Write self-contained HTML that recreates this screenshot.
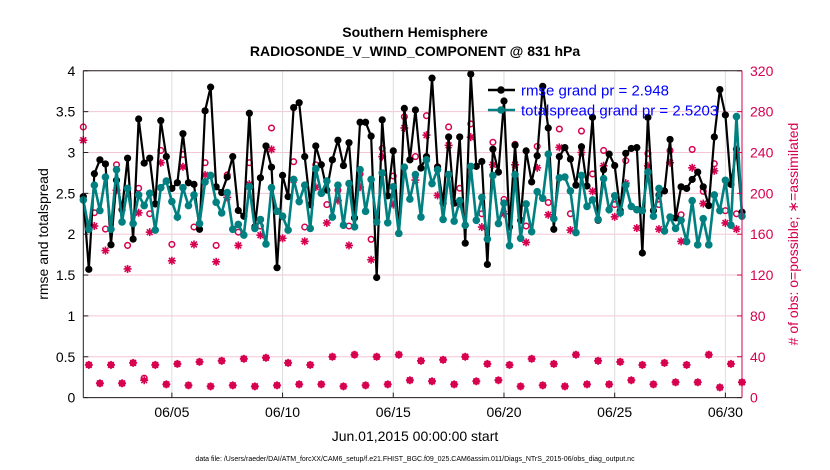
<!DOCTYPE html>
<html><head><meta charset="utf-8"><style>
body{margin:0;background:#fff;}
svg{display:block;font-family:"Liberation Sans",sans-serif;}
</style></head><body>
<svg id="chart" width="830" height="470" viewBox="0 0 830 470">
<rect width="830" height="470" fill="#fff"/>
<text x="415" y="37" text-anchor="middle" font-size="14" font-weight="bold">Southern Hemisphere</text>
<text x="415" y="56" text-anchor="middle" font-size="14" font-weight="bold">RADIOSONDE_V_WIND_COMPONENT @ 831 hPa</text>
<g id="grid"></g>
<g id="marks"></g>
<g id="axes"></g>
<text x="48" y="234" text-anchor="middle" font-size="14" transform="rotate(-90 48 234)">rmse and totalspread</text>
<text x="798" y="234" text-anchor="middle" font-size="14" fill="#d7004f" transform="rotate(-90 798 234)"># of obs: o=possible; ∗=assimilated</text>
<text x="415" y="441" text-anchor="middle" font-size="14">Jun.01,2015 00:00:00 start</text>
<text x="415" y="461" text-anchor="middle" font-size="7">data file: /Users/raeder/DAI/ATM_forcXX/CAM6_setup/f.e21.FHIST_BGC.f09_025.CAM6assim.011/Diags_NTrS_2015-06/obs_diag_output.nc</text>
<g id="legend"></g>
</svg>
<script>
const rmse=[2.46,1.57,2.74,2.91,2.86,1.87,2.66,2.30,2.93,1.94,3.41,2.87,2.93,2.37,3.39,2.95,2.56,2.63,3.23,2.63,2.61,2.06,3.51,3.80,2.58,2.51,2.70,2.95,2.29,2.22,3.48,2.09,2.69,3.08,2.82,1.59,2.72,2.46,3.55,3.61,2.95,2.36,3.08,2.85,2.54,2.91,3.15,2.84,3.12,2.20,3.37,3.37,3.20,1.47,3.40,2.47,3.02,2.01,3.54,2.91,3.52,2.81,2.95,3.91,2.82,2.38,3.19,2.38,3.19,1.89,3.96,2.83,2.89,1.63,3.04,2.76,3.63,2.09,3.09,2.17,3.02,2.64,2.96,3.81,3.30,2.06,2.95,3.06,2.92,2.60,3.07,2.59,3.43,2.17,2.79,2.98,2.84,2.29,2.99,3.05,3.06,1.77,3.43,2.29,2.48,2.53,3.16,2.20,2.58,2.56,2.67,2.76,2.58,2.35,3.19,3.77,3.46,2.61,3.04,2.27];
const spread=[2.42,2.06,2.60,2.29,2.70,2.06,2.79,2.15,2.56,2.13,2.48,2.35,2.50,2.05,2.57,2.65,2.40,2.21,2.57,2.35,2.48,2.13,2.64,2.72,2.39,2.26,2.51,2.06,2.12,1.99,2.58,2.07,2.18,1.88,2.57,2.28,2.22,2.05,2.67,2.40,2.60,2.07,2.80,2.50,2.65,2.21,2.60,2.11,2.62,2.09,2.79,2.28,2.67,2.15,2.75,2.14,2.58,2.01,2.82,2.43,2.73,2.21,2.91,2.62,2.79,2.18,2.73,2.16,2.41,2.11,2.83,2.17,2.45,1.94,2.72,2.13,2.38,1.86,2.73,1.95,2.37,2.03,2.52,2.44,2.98,2.19,2.69,2.70,2.53,2.02,2.72,2.34,2.42,2.18,2.68,2.30,2.47,2.26,2.60,2.34,2.30,2.29,2.76,2.22,2.56,2.04,2.21,2.07,2.17,1.91,2.41,1.87,2.19,1.87,2.48,2.29,2.66,2.11,3.44,2.22];
// counts at even indices (00Z/12Z)
const possibleMain=[265,181,165,228,149,205,180,242,150,238,167,230,149,218,162,230,168,264,177,231,167,228,189,203,168,219,155,244,217,275,236,276,226,265,205,268,180,250,194,248,168,246,191,263,180,261,219,242,189,232,184,239,189,242,179,243,202,229,183,180];
const assimMain=[252,168,144,203,126,181,162,230,134,226,150,218,133,196,149,209,159,243,156,213,153,206,171,193,149,206,135,236,189,264,213,257,198,247,190,255,167,228,180,228,152,225,179,245,164,240,202,227,177,210,166,227,165,230,153,225,190,222,171,165];
// counts at odd indices (06Z/18Z)
const possibleMinor=[32,14,32,14,34,19,32,13,33,12,35,11,36,12,38,11,39,12,34,13,32,13,40,11,42,12,40,13,42,17,36,16,37,13,40,16,33,17,32,11,38,12,33,11,42,13,36,13,35,17,32,13,34,15,32,15,42,10,33,15];
const assimMinor=[32,14,32,14,34,17,32,13,33,12,35,11,36,12,38,11,39,12,34,13,32,13,40,11,42,12,40,13,42,17,36,16,37,13,40,16,33,17,32,11,38,12,33,11,42,13,36,13,35,17,32,13,34,15,32,15,42,10,33,15];
const leftTicks=["0","0.5","1","1.5","2","2.5","3","3.5","4"];
const rightTicks=["0","40","80","120","160","200","240","280","320"];
const dateTicks=["06/05","06/10","06/15","06/20","06/25","06/30"];
const dateDays=[4,9,14,19,24,29];

const NS="http://www.w3.org/2000/svg";
const X0=83.3,X1=742,Y0=397.6,YT=70.8;
const nPts=rmse.length;
const xIdx=i=>X0+i*(X1-X0)/(nPts-1);
const xDay=d=>xIdx(d*4);
const yL=v=>Y0-(v/4)*(Y0-YT);
const yR=c=>Y0-(c/320)*(Y0-YT);
const RED="#d7004f",TEAL="#008080";
function mk(tag,attrs,parent){const e=document.createElementNS(NS,tag);for(const k in attrs)e.setAttribute(k,attrs[k]);parent.appendChild(e);return e;}
const grid=document.getElementById('grid'),marks=document.getElementById('marks'),axes=document.getElementById('axes'),legend=document.getElementById('legend');

// horizontal grid
leftTicks.forEach((t,k)=>{const y=yL(parseFloat(t));
 const l=mk('line',{x1:X0,x2:X1,y1:y,y2:y,stroke:"#f3c6d6","stroke-width":1},grid);
 
 
 const tl=mk('text',{x:X0-8,y:y+5,"text-anchor":"end","font-size":14},axes);tl.textContent=t;
 
 
 mk('line',{x1:X0,x2:X0+5,y1:y,y2:y,stroke:"#222"},axes);
});
rightTicks.forEach((t,k)=>{const y=yR(parseFloat(t));
 const tl=mk('text',{x:X1+8,y:y+5,"font-size":14,fill:RED},axes);tl.textContent=t;
 
 
 mk('line',{x1:X1-5,x2:X1,y1:y,y2:y,stroke:RED},axes);
});
dateTicks.forEach((t,k)=>{const x=xDay(dateDays[k]);
 const l=mk('line',{x1:x,x2:x,y1:YT,y2:Y0,stroke:"#dcdcdc","stroke-width":1},grid);
 
 
 mk('line',{x1:x,x2:x,y1:Y0,y2:Y0-5,stroke:"#222"},axes);
 const tl=mk('text',{x:x,y:417,"text-anchor":"middle","font-size":14},axes);tl.textContent=t;
 
 
});
mk('line',{x1:X0,x2:X1,y1:YT,y2:YT,stroke:"#222"},axes);
mk('line',{x1:X0,x2:X1,y1:Y0,y2:Y0,stroke:"#222"},axes);
mk('line',{x1:X0,x2:X0,y1:YT,y2:Y0,stroke:"#222"},axes);
mk('line',{x1:X1,x2:X1,y1:YT,y2:Y0,stroke:RED},axes);

function star(x,y,parent){const g=mk('g',{stroke:RED,"stroke-width":1.6},parent);
 const r=4;mk('line',{x1:x-r,x2:x+r,y1:y,y2:y},g);mk('line',{x1:x,x2:x,y1:y-r,y2:y+r},g);
 const d=r*0.72;mk('line',{x1:x-d,x2:x+d,y1:y-d,y2:y+d},g);mk('line',{x1:x-d,x2:x+d,y1:y+d,y2:y-d},g);return g;}
function circ(x,y,parent){return mk('circle',{cx:x,cy:y,r:2.8,fill:"none",stroke:RED,"stroke-width":1.5},parent);}

// obs
possibleMain.forEach((c,k)=>{const e=circ(xIdx(2*k),yR(c),marks);
 
 });
assimMain.forEach((c,k)=>{const e=star(xIdx(2*k),yR(c),marks);
 
 });
possibleMinor.forEach((c,k)=>{const e=circ(xIdx(2*k+1),yR(c),marks);
 
 });
assimMinor.forEach((c,k)=>{const e=star(xIdx(2*k+1),yR(c),marks);
 
 });

// rmse
const rl=mk('polyline',{points:rmse.map((v,i)=>xIdx(i)+","+yL(v)).join(" "),fill:"none",stroke:"#000","stroke-width":2.2},marks);


rmse.forEach((v,i)=>{const c=mk('circle',{cx:xIdx(i),cy:yL(v),r:3.6,fill:"#000"},marks);
 
 });
const sl=mk('polyline',{points:spread.map((v,i)=>xIdx(i)+","+yL(v)).join(" "),fill:"none",stroke:TEAL,"stroke-width":2.6},marks);


spread.forEach((v,i)=>{const c=mk('circle',{cx:xIdx(i),cy:yL(v),r:3.8,fill:TEAL},marks);
 
 });

// legend
[["#000","rmse grand pr = 2.948",90],[TEAL,"totalspread grand pr = 2.5203",110]].forEach(([col,txt,y])=>{
 const g=mk('g',{},legend);
 
 
 mk('line',{x1:488,x2:515,y1:y,y2:y,stroke:col,"stroke-width":2.5},g);
 mk('circle',{cx:501,cy:y,r:3.8,fill:col},g);
 const t=mk('text',{x:521,y:y+5.5,"font-size":15,fill:"#0000ff"},g);t.textContent=txt;
});
</script>
</body></html>
